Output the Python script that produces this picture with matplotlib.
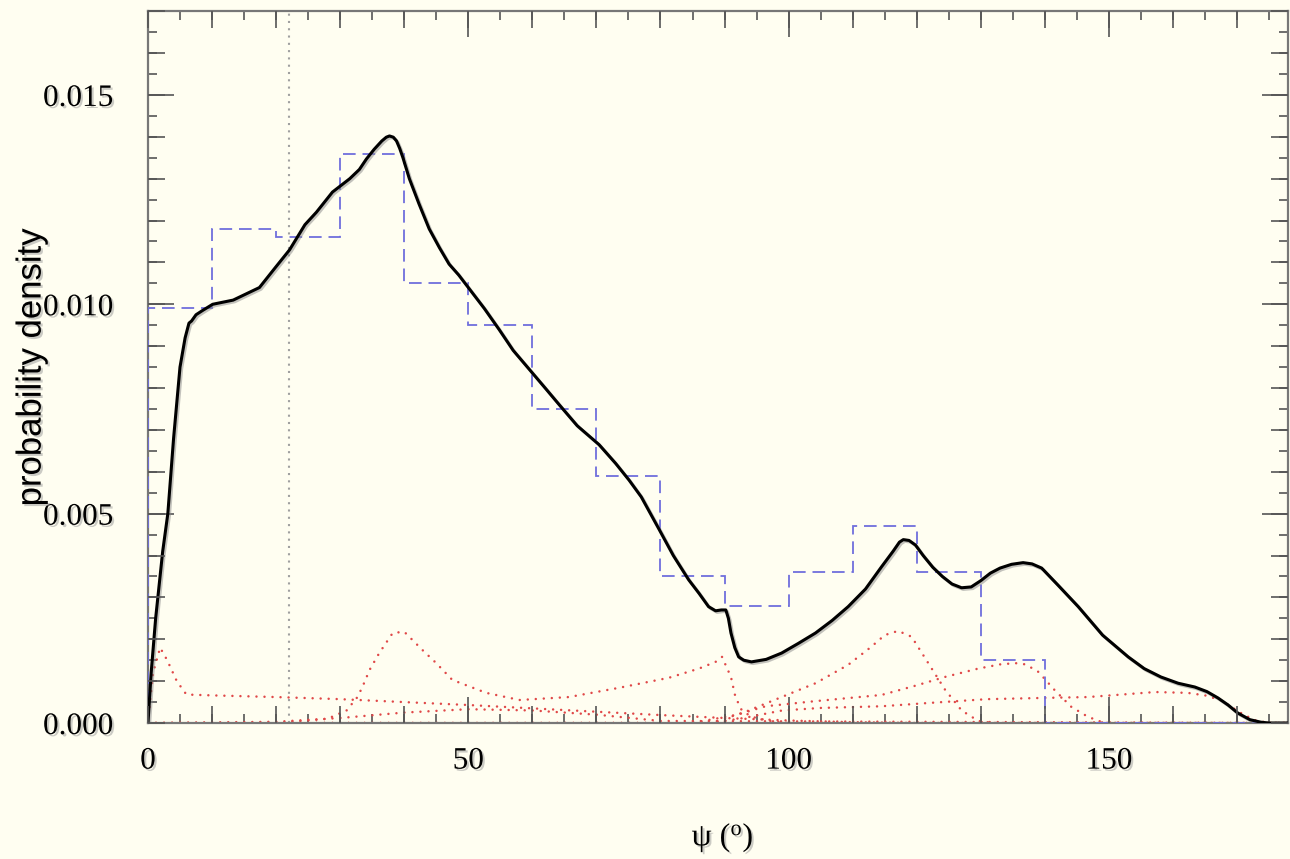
import numpy as np
import matplotlib
matplotlib.use("Agg")
import matplotlib.pyplot as plt
import matplotlib.patheffects as pe
from matplotlib.ticker import MultipleLocator, FormatStrFormatter, NullLocator

# 数据
# 直方图, 10 度一格
hist_edges = [0, 10, 20, 30, 40, 50, 60, 70, 80, 90, 100, 110, 120, 130, 140, 150, 160, 170, 180]
hist_vals = [0.0099, 0.0118, 0.0116, 0.0136, 0.0105, 0.0095, 0.0075, 0.0059, 0.0035,
             0.0028, 0.0036, 0.0047, 0.0036, 0.0015, 0.0, 0.0, 0.0, 0.0]

# 核密度曲线
kde_x = [0, 0.5, 1.2, 2.3, 3.1, 4.0, 5.0, 5.8, 6.4, 6.8, 7.5, 8.5, 10.1, 13.3, 17.4, 20,
         22.1, 24.5, 26.3, 28.8, 31.5, 33.0, 34.1, 35.3, 36.5, 37.2, 37.7, 38.3, 38.8,
         39.3, 39.8, 40.8, 42.3, 43.9, 45.5, 47, 48.5, 50.2, 52.5, 54.8, 57, 59.5, 62,
         64.2, 67, 70.4, 73, 75.1, 77, 79.8, 82, 84.4, 86, 87.5, 88.6, 89.5, 90.2, 90.6,
         91.0, 91.6, 92.2, 93.0, 94.2, 96.5, 98.9, 101.5, 104.2, 106.8, 109.3, 112,
         114.5, 116.3, 117.3, 117.9, 118.8, 119.8, 121, 122.5, 124, 125.5, 127, 128.5,
         130, 131.5, 133, 134.8, 136.6, 138, 139.5, 142, 145.2, 149, 153, 155.5, 158.1,
         160.8, 163.4, 165.3, 167, 168.6, 170.1, 172, 173.7, 175, 178]
kde_y = [0, 0.0012, 0.0025, 0.0041, 0.0050, 0.0068, 0.0085, 0.0092, 0.00955, 0.0096,
         0.00975, 0.00985, 0.0100, 0.0101, 0.0104, 0.0109, 0.0113, 0.0119, 0.0122, 0.01268,
         0.0130, 0.01322, 0.01347, 0.0137, 0.0139, 0.01399, 0.01402, 0.01399, 0.0139,
         0.01372, 0.0135, 0.0130, 0.0124, 0.0118, 0.01135, 0.01096, 0.0107, 0.01036,
         0.0099, 0.0094, 0.0089, 0.00845, 0.0080, 0.0076, 0.0071, 0.00665, 0.0062, 0.0058,
         0.0054, 0.00462, 0.0040, 0.00342, 0.0031, 0.00278, 0.00268, 0.0027, 0.0027,
         0.0025, 0.00215, 0.0018, 0.00158, 0.0015, 0.00146, 0.00152, 0.00167, 0.0019,
         0.00215, 0.00245, 0.00278, 0.0032, 0.00373, 0.0041, 0.00432, 0.00438, 0.00436,
         0.00425, 0.0040, 0.00372, 0.0035, 0.00332, 0.00323, 0.00325, 0.0034, 0.00358,
         0.0037, 0.00379, 0.00383, 0.0038, 0.0037, 0.0033, 0.00278, 0.0021, 0.00158,
         0.0013, 0.0011, 0.00095, 0.00086, 0.00075, 0.0006, 0.00043, 0.00024, 0.00008,
         0.00002, 0, 0]

# 混合分量 (红色点线)
c1_x = [0, 0.8, 1.9, 3.0, 4.5, 6.0, 10, 20, 30, 40, 50, 60, 70, 80, 90, 100, 110, 120, 178]
c1_y = [0, 0.0012, 0.0018, 0.0015, 0.0010, 0.00068, 0.00066, 0.00062, 0.00057, 0.00050,
        0.00043, 0.00035, 0.00027, 0.00019, 0.00012, 0.00006, 0.00002, 0, 0]

c2_x = [0, 20, 28, 31, 32.7, 33.5, 34.6, 36.1, 38.2, 40, 42.8, 45, 47.5, 52.8, 58, 65.7,
        73.5, 81.3, 86, 88.6, 89.6, 91, 91.7, 92.7, 94.2, 97, 100, 178]
c2_y = [0, 0, 0.0001, 0.0003, 0.00062, 0.00087, 0.00127, 0.00167, 0.00215, 0.00218,
        0.00175, 0.00143, 0.00103, 0.00072, 0.00055, 0.00062, 0.00084, 0.00108, 0.0013,
        0.00146, 0.00158, 0.0011, 0.00062, 0.0003, 0.00015, 0.00005, 0, 0]

c3_x = [0, 88, 93.3, 98.9, 104.2, 109.3, 112.9, 115, 117.1, 119.2, 121.8, 124.4, 127,
        129.6, 132, 178]
c3_y = [0, 0, 0.00027, 0.00062, 0.00095, 0.00139, 0.00182, 0.0021, 0.0022, 0.00206,
        0.00143, 0.0008, 0.0003, 0.00005, 0, 0]

c4_x = [0, 85, 92, 96.4, 104, 114.5, 120, 124.4, 129.6, 133, 135.4, 137, 139, 141.5,
        144.1, 146.7, 149.3, 178]
c4_y = [0, 0, 0.0002, 0.00040, 0.00052, 0.00067, 0.0009, 0.0011, 0.0013, 0.0014, 0.00143,
        0.0014, 0.00122, 0.00079, 0.00039, 0.00015, 0, 0]

c5_x = [0, 88, 93, 99, 105, 114.5, 122, 131, 140, 146.7, 152, 157.2, 162.3, 165, 167.4,
        170.6, 172.7, 175, 178]
c5_y = [0, 0, 0.00012, 0.00030, 0.00036, 0.00040, 0.00048, 0.00057, 0.0006, 0.00062,
        0.00068, 0.00074, 0.00072, 0.00066, 0.00055, 0.00024, 0.00007, 0, 0]

c6_x = [0, 20, 30, 40, 50, 60, 70, 80, 178]
c6_y = [0, 0.00003, 0.00012, 0.00025, 0.00033, 0.0003, 0.0002, 0.00005, 0]

components = [(c1_x, c1_y), (c2_x, c2_y), (c3_x, c3_y), (c4_x, c4_y),
              (c5_x, c5_y), (c6_x, c6_y)]

ref_x = 22  # 竖直参考线

bg = '#fffef1'
serif = 'Liberation Serif'
plt.rcParams['mathtext.fontset'] = 'custom'
plt.rcParams['mathtext.rm'] = serif
plt.rcParams['mathtext.it'] = serif + ':italic'

fig = plt.figure(figsize=(12.9, 8.59), dpi=100, facecolor=bg)
ax = fig.add_axes([0.1147, 0.1583, 0.884, 0.8287], facecolor=bg)

text_shadow = [pe.withSimplePatchShadow(offset=(1.5, -1.5), shadow_rgbFace='#999999', alpha=0.5)]

# 红色点线分量
for cx, cy in components:
    ax.plot(cx, cy, color='#e04848', lw=1.8, linestyle=(0, (0.01, 3.2)),
            dash_capstyle='round', zorder=2)

# 参考线
ax.axvline(ref_x, color='#a0a0a0', lw=1.5, linestyle=(0, (1, 2.5)), zorder=1)

# 直方图
ax.stairs(hist_vals, hist_edges, baseline=0, color='#6f6fdc', lw=1.3,
          linestyle=(0, (7, 3.8)), zorder=3)

# 核密度曲线
ax.plot(kde_x, kde_y, color='black', lw=2.2, zorder=4, solid_joinstyle='round',
        path_effects=[pe.SimpleLineShadow(offset=(1.2, -1.2), shadow_color='#888888', alpha=0.5),
                      pe.Normal()])

ax.set_xlim(0, 178)
ax.set_ylim(0, 0.0170)

# 三级刻度: 用 twin 轴画中等长度的刻度
tx = ax.twiny()
tx.set_xlim(ax.get_xlim())
tx.xaxis.set_major_locator(MultipleLocator(10))
tx.xaxis.set_minor_locator(NullLocator())
tx.tick_params(axis='x', which='major', top=True, bottom=True, labeltop=False,
               labelbottom=False, direction='in', length=12, width=1.2, color='#555555')
ty = ax.twinx()
ty.set_ylim(ax.get_ylim())
ty.yaxis.set_major_locator(MultipleLocator(0.001))
ty.yaxis.set_minor_locator(NullLocator())
ty.tick_params(axis='y', which='major', left=True, right=True, labelleft=False,
               labelright=False, direction='in', length=12, width=1.2, color='#555555')
for t in (tx, ty):
    for s in t.spines.values():
        s.set_visible(False)

ax.xaxis.set_major_locator(MultipleLocator(50))
ax.xaxis.set_minor_locator(MultipleLocator(5))
ax.yaxis.set_major_locator(MultipleLocator(0.005))
ax.yaxis.set_minor_locator(MultipleLocator(0.0005))
ax.yaxis.set_major_formatter(FormatStrFormatter('%.3f'))
ax.tick_params(which='both', direction='in', top=True, right=True, bottom=True, left=True,
               color='#555555', width=1.2)
ax.tick_params(which='major', length=19)
ax.tick_params(which='minor', length=6.5)
ax.tick_params(axis='y', which='major', pad=25)
ax.tick_params(axis='x', which='major', pad=17)
for lab in ax.get_xticklabels() + ax.get_yticklabels():
    lab.set_fontfamily(serif)
    lab.set_fontsize(22.5)
    lab.set_path_effects(text_shadow)

for s in ax.spines.values():
    s.set_color('#777777')
    s.set_linewidth(1.6)

ax.set_ylabel('probability density', fontfamily='Liberation Sans', fontsize=25,
              path_effects=text_shadow)
ax.yaxis.set_label_coords(-0.088, 0.5)
ax.set_xlabel(r'ψ ($^{\mathrm{o}}$)', fontfamily=serif, fontsize=23,
              path_effects=text_shadow)
ax.xaxis.set_label_coords(0.504, -0.137)

fig.savefig('out.png', dpi=100, facecolor=bg)
